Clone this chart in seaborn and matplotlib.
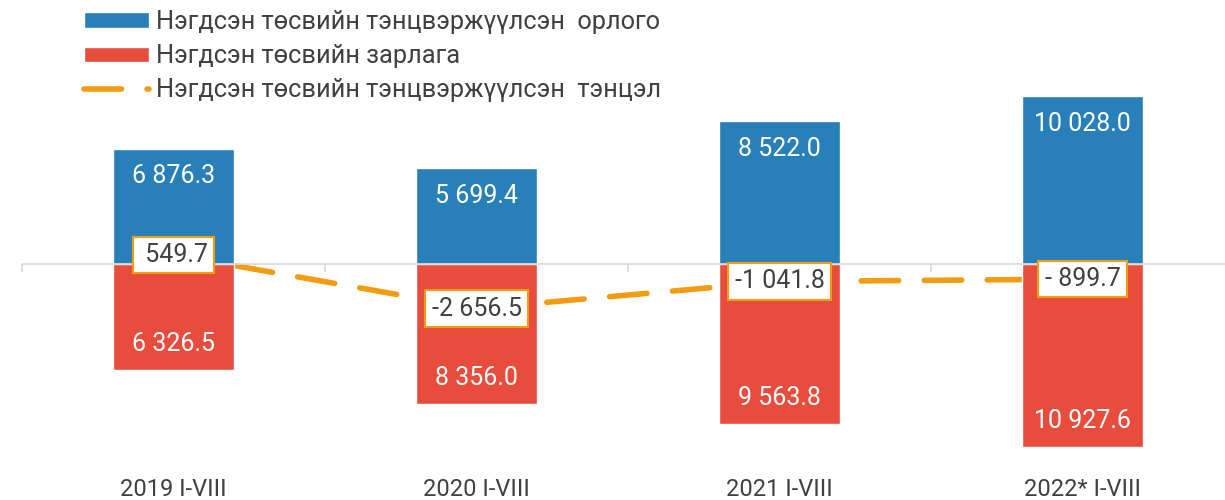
import numpy as np
import pandas as pd
import matplotlib
matplotlib.use("Agg")
import matplotlib.pyplot as plt
import seaborn as sns

sns.set_theme(style="white")
plt.rcParams["font.family"] = ["Roboto", "DejaVu Sans"]

# data
periods = ["2019 I-VIII", "2020 I-VIII", "2021 I-VIII", "2022* I-VIII"]
revenue = [6876.3, 5699.4, 8522.0, 10028.0]
expenditure = [6326.5, 8356.0, 9563.8, 10927.6]
balance = [549.7, -2656.5, -1041.8, -899.7]

lbl_rev = "Нэгдсэн төсвийн тэнцвэржүүлсэн  орлого"
lbl_exp = "Нэгдсэн төсвийн зарлага"
lbl_bal = "Нэгдсэн төсвийн тэнцвэржүүлсэн  тэнцэл"

BLUE = "#2980B9"
RED = "#E74C3C"
ORANGE = "#F39C12"
TXT = "#404040"


def excel_fmt(v):
    # mimics Excel "# ##0.0" (space as thousands separator)
    s = f"{abs(v):,.1f}".replace(",", " ")
    sign = "-" if v < 0 else ""
    if abs(v) < 1000:
        return sign + " " + s
    return sign + s


df = pd.DataFrame({
    "period": periods * 2,
    "value": revenue + [-v for v in expenditure],
    "series": [lbl_rev] * 4 + [lbl_exp] * 4,
})

fig = plt.figure(figsize=(12.25, 5), dpi=100)
ymin, ymax = -11800, 10550
ax = fig.add_axes([22 / 1225, 0.076, 1212 / 1225, 0.75])

sns.barplot(data=df, x="period", y="value", hue="series",
            palette=[BLUE, RED], dodge=False, width=0.4, saturation=1,
            ax=ax, zorder=3)

sns.lineplot(x=periods, y=balance, color=ORANGE, lw=4, label=lbl_bal,
             ax=ax, zorder=1, sort=False)
line = ax.lines[-1]
line.set_dashes((6.75, 4.6))
line.set_dash_capstyle("round")

ax.set_xlim(-0.5, 3.5)
ax.set_ylim(ymin, ymax)
for sp in ax.spines.values():
    sp.set_visible(False)
ax.set_yticks([])
ax.set_xlabel("")
ax.set_ylabel("")
ax.tick_params(axis="x", length=0, pad=11.5)
for t in ax.get_xticklabels():
    t.set_fontsize(17)
    t.set_color(TXT)

# zero axis line with category boundary ticks pointing down
ax.axhline(0, color="#D9D9D9", lw=1.2, zorder=4)
zero_frac = (0 - ymin) / (ymax - ymin)
sec = ax.secondary_xaxis(zero_frac)
sec.set_xticks(np.arange(-0.5, 3.5, 1.0))
sec.set_xticklabels([])
sec.xaxis.set_ticks_position("bottom")
sec.tick_params(axis="x", direction="out", length=6, width=1.2, color="#D9D9D9")
for sp in sec.spines.values():
    sp.set_visible(False)

# value labels
for i, (r, e, b) in enumerate(zip(revenue, expenditure, balance)):
    ax.annotate(excel_fmt(r), (i, r), xytext=(0, -20), textcoords="offset points",
                ha="center", va="center", color="white", fontsize=18, zorder=5)
    ax.annotate(excel_fmt(e), (i, -e), xytext=(0, 19), textcoords="offset points",
                ha="center", va="center", color="white", fontsize=18, zorder=5)
    ax.text(i, b, excel_fmt(b), ha="center", va="center", color=TXT, fontsize=18,
            zorder=6,
            bbox=dict(boxstyle="square,pad=0.25", fc="white", ec=ORANGE, lw=1.5))

handles, labels = ax.get_legend_handles_labels()
order = [labels.index(lbl_rev), labels.index(lbl_exp), labels.index(lbl_bal)]
ax.legend([handles[k] for k in order], [labels[k] for k in order],
          loc="upper left", bbox_to_anchor=(84 / 1225, 1 - 10 / 500),
          bbox_transform=fig.transFigure, frameon=False, fontsize=18.3,
          labelcolor=TXT, handlelength=2.55, handleheight=0.55,
          handletextpad=0.3, labelspacing=0.4, borderpad=0, borderaxespad=0)

fig.savefig("out.png", dpi=100)
